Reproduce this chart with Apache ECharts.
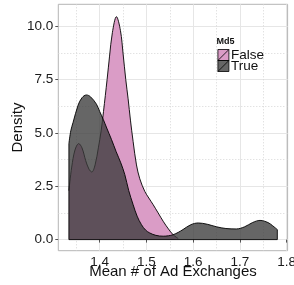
<!DOCTYPE html>
<html>
<head>
<meta charset="utf-8">
<script src="https://cdn.jsdelivr.net/npm/echarts@6/dist/echarts.min.js"></script>
<style>
body { margin: 0px; background: #fff; }
#main { width: 294px; height: 285px; }
</style>
</head>
<body>
<div id="main"></div>
<script>
// density of Md5 == False
var falseX = [1.334, 1.340, 1.347, 1.355, 1.362, 1.370, 1.377, 1.383, 1.390, 1.397, 1.403, 1.408, 1.4157, 1.421, 1.427, 1.4357, 1.4443, 1.450, 1.4557, 1.4607, 1.4657, 1.4714, 1.4786, 1.4857, 1.4964, 1.505, 1.5142, 1.525, 1.5357, 1.547, 1.557, 1.568];
var falseY = [2.3, 3.4, 4.2, 4.5, 4.3, 3.7, 3.3, 3.17, 3.5, 4.3, 5.1, 6.0, 7.5, 8.6, 9.7, 10.45, 9.8, 8.7, 7.5, 6.6, 5.6, 4.6, 3.5, 2.85, 2.26, 1.95, 1.64, 1.25, 0.86, 0.5, 0.23, 0.05];

// density of Md5 == True
var trueX = [1.334, 1.338, 1.343, 1.3536, 1.362, 1.3714, 1.380, 1.3929, 1.400, 1.4078, 1.415, 1.425, 1.435, 1.445, 1.4536, 1.462, 1.4714, 1.480, 1.4893, 1.498, 1.5071, 1.520, 1.5357, 1.547, 1.557, 1.568, 1.578, 1.595, 1.611, 1.630, 1.650, 1.670, 1.692, 1.710, 1.727, 1.743, 1.760, 1.770, 1.780];
var trueY = [4.5, 5.1, 5.5, 6.3, 6.65, 6.78, 6.7, 6.35, 6.0, 5.62, 5.23, 4.7, 4.13, 3.6, 3.05, 2.3, 1.64, 1.1, 0.7, 0.45, 0.31, 0.2, 0.16, 0.18, 0.23, 0.34, 0.47, 0.7, 0.78, 0.72, 0.6, 0.52, 0.5, 0.6, 0.8, 0.9, 0.8, 0.65, 0.47];

var groups = ['False', 'True'];
var xTicks = [1.4, 1.5, 1.6, 1.7, 1.8];
var xMinor = [1.35, 1.45, 1.55, 1.65, 1.75];
var yTicks = [0, 2.5, 5, 7.5, 10];
var yMinor = [1.25, 3.75, 6.25, 8.75];

var FONT = 'Liberation Sans, Arial, sans-serif';
var pink = '#da9cc6';
var grey = 'rgba(59,59,59,0.78)';

function pairs(xs, ys) {
	var out = [];
	for (var i = 0; i < xs.length; i++) out.push([xs[i], ys[i]]);
	return out;
}

var n = trueX.length - 1;
var edges = [[trueX[0], trueY[0]], [trueX[0], 0], [trueX[n], 0], [trueX[n], trueY[n]]];

var keyIcon = 'path://M0,0L10,0L10,10L0,10Z M0,10L10,0';

var myChart = echarts.init(document.getElementById('main'));
var option = {
	animation: false,
	textStyle: { fontFamily: FONT },
	title: {
		text: 'Md5',
		left: 216.5,
		top: 37,
		padding: 0,
		textStyle: { fontSize: 9, fontWeight: 'bold', color: '#111', fontFamily: FONT }
	},
	legend: {
		orient: 'vertical',
		left: 217.5,
		top: 48,
		itemWidth: 11,
		itemHeight: 11,
		itemGap: -3,
		padding: 0,
		textStyle: { fontSize: 13.5, color: '#111', padding: [0, 0, 0, -3], fontFamily: FONT },
		data: [
			{ name: groups[0], icon: keyIcon, itemStyle: { color: pink, borderColor: '#000', borderWidth: 0.8 } },
			{ name: groups[1], icon: keyIcon, itemStyle: { color: grey, borderColor: '#000', borderWidth: 0.8 } }
		]
	},
	grid: {
		left: 58.3,
		right: 6.4,
		top: 4.3,
		bottom: 34.3,
		outerBoundsMode: 'none',
		containLabel: false,
		show: true,
		borderColor: '#b5b5b5',
		borderWidth: 1
	},
	xAxis: [
		{
			type: 'value',
			min: 1.3113,
			max: 1.802,
			name: 'Mean # of Ad Exchanges',
			nameLocation: 'middle',
			nameGap: 14,
			nameMoveOverlap: false,
			nameTextStyle: { fontSize: 15, color: '#111', fontFamily: FONT },
			axisLine: { show: false },
			axisTick: { show: true, length: 3, customValues: xTicks, lineStyle: { color: '#555' } },
			axisLabel: { customValues: xTicks, fontSize: 13.5, color: '#1a1a1a', margin: 5, fontFamily: FONT },
			splitLine: { show: true, lineStyle: { color: '#e6e6e6', width: 1 } }
		},
		{
			type: 'value',
			min: 1.3113,
			max: 1.802,
			axisLine: { show: false },
			axisTick: { show: false, customValues: xMinor },
			axisLabel: { show: false, customValues: xMinor },
			splitLine: { show: true, lineStyle: { color: '#d6d6d6', width: 1, type: [1, 2] } }
		}
	],
	yAxis: [
		{
			type: 'value',
			min: -0.52,
			max: 11.03,
			name: 'Density',
			nameLocation: 'middle',
			nameGap: 33,
			nameMoveOverlap: false,
			nameTextStyle: { fontSize: 15, color: '#111', fontFamily: FONT },
			axisLine: { show: false },
			axisTick: { show: true, length: 3, customValues: yTicks, lineStyle: { color: '#555' } },
			axisLabel: {
				customValues: yTicks, fontSize: 13.5, color: '#1a1a1a', margin: 5, fontFamily: FONT,
				formatter: function(v) { return v.toFixed(1); }
			},
			splitLine: { show: true, lineStyle: { color: '#e6e6e6', width: 1 } }
		},
		{
			type: 'value',
			min: -0.52,
			max: 11.03,
			axisLine: { show: false },
			axisTick: { show: false, customValues: yMinor },
			axisLabel: { show: false, customValues: yMinor },
			splitLine: { show: true, lineStyle: { color: '#d6d6d6', width: 1, type: [1, 2] } }
		}
	],
	series: [
		{
			name: groups[0],
			type: 'line',
			xAxisIndex: 0,
			yAxisIndex: 0,
			smooth: 0.35,
			showSymbol: false,
			data: pairs(falseX, falseY),
			itemStyle: { color: pink },
			lineStyle: { color: '#000', width: 0.9 },
			areaStyle: { color: pink, opacity: 1 },
			z: 2
		},
		{
			name: groups[1],
			type: 'line',
			xAxisIndex: 0,
			yAxisIndex: 0,
			smooth: 0.35,
			showSymbol: false,
			data: pairs(trueX, trueY),
			itemStyle: { color: grey },
			lineStyle: { color: '#000', width: 0.9 },
			areaStyle: { color: grey, opacity: 1 },
			z: 3
		},
		{
			name: 'edges',
			type: 'line',
			xAxisIndex: 0,
			yAxisIndex: 0,
			showSymbol: false,
			silent: true,
			data: edges,
			lineStyle: { color: '#000', width: 0.9 },
			z: 4
		}
	]
};
myChart.setOption(option);
</script>
</body>
</html>
